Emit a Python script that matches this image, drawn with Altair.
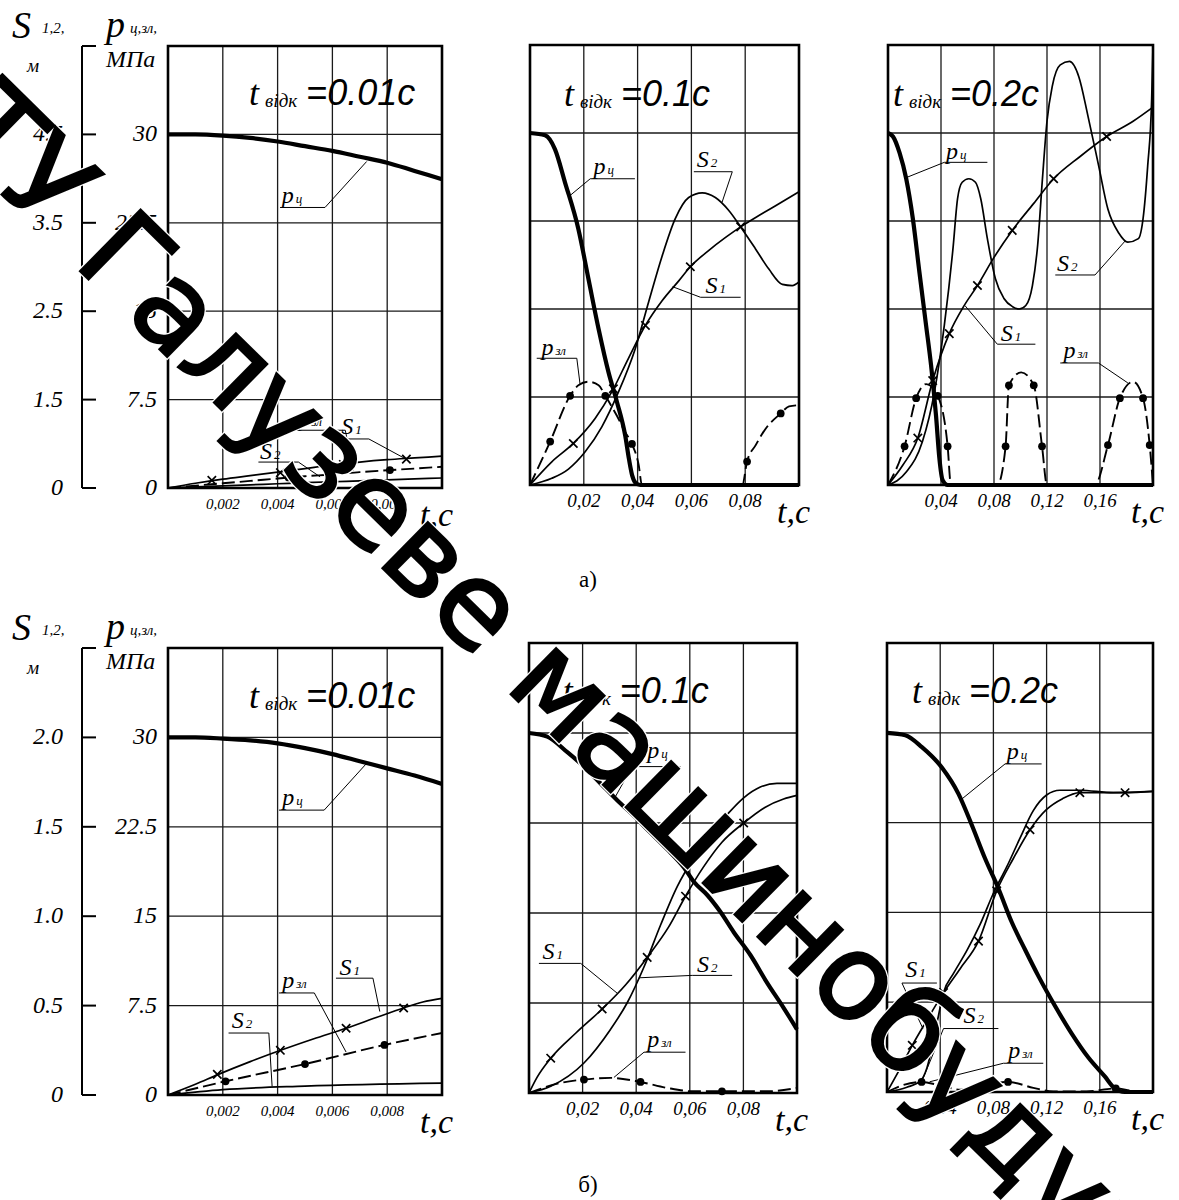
import altair as alt
import pandas as pd

SERIF = "Liberation Serif"
SANS = "Liberation Sans"
YMAX = 37.5
W, H = 1179, 1200
XSHAPE = "M-1,-1L1,1M-1,1L1,-1"

# ---------------- shared axis values ----------------
GRID_P = [7.5, 15, 22.5, 30]
P_TICKS = [0, 7.5, 15, 22.5, 30]
P_LABELS = ["0", "7.5", "15", "22.5", "30"]
S_LABELS_A = ["0", "1.5", "2.5", "3.5", "4.5"]
S_LABELS_B = ["0", "0.5", "1.0", "1.5", "2.0"]
TICKS_1 = [0.002, 0.004, 0.006, 0.008]
TLAB_1 = ["0,002", "0,004", "0,006", "0,008"]
TICKS_2 = [0.02, 0.04, 0.06, 0.08]
TLAB_2 = ["0,02", "0,04", "0,06", "0,08"]
TICKS_3 = [0.04, 0.08, 0.12, 0.16]
TLAB_3 = ["0,04", "0,08", "0,12", "0,16"]

# ---------------- a) t_відк = 0.01 c ----------------
a1_t = [0, 0.001, 0.002, 0.003, 0.004, 0.005, 0.006, 0.007, 0.008, 0.009, 0.01]
a1_pc = [30.0, 30.0, 29.9, 29.7, 29.4, 29.0, 28.6, 28.1, 27.6, 26.9, 26.2]
a1_s1 = [0, 0.4, 0.75, 1.05, 1.35, 1.65, 1.95, 2.2, 2.4, 2.55, 2.7]
a1_s2 = [0, 0.09, 0.18, 0.27, 0.36, 0.45, 0.53, 0.61, 0.69, 0.77, 0.85]
a1_pzl = [0, 0.2, 0.4, 0.6, 0.8, 1.0, 1.15, 1.35, 1.5, 1.65, 1.8]
a1_mk_t = [0.0016, 0.0041, 0.0064, 0.0087]
a1_mk_p = [0.65, 1.3, 2.0, 2.45]
a1_dot_t = [0.0044, 0.0081]
a1_dot_p = [0.9, 1.52]
a1_labels = [("p", "ц", 0.00415, 24.2), ("S", "1", 0.00632, 4.6),
             ("p", "зл", 0.00473, 5.3), ("S", "2", 0.00336, 2.5)]
a1_leaders = [[(0.00409, 23.8), (0.00573, 23.8), (0.00725, 27.7)],
              [(0.00611, 4.16), (0.00733, 4.16), (0.00865, 2.5)],
              [(0.0046, 4.9), (0.00647, 4.9), (0.00677, 1.5)],
              [(0.0033, 2.2), (0.00476, 2.2), (0.00555, 0.95)]]

# ---------------- a) t_відк = 0.1 c ----------------
a2_pc_t = [0, 0.0056, 0.0093, 0.013, 0.018, 0.0217, 0.0255, 0.0292, 0.0323, 0.0354,
           0.0368, 0.038, 0.0392, 0.041, 0.06, 0.08, 0.1]
a2_pc = [30, 29.8, 28.6, 25.8, 21.8, 17.6, 13.3, 9.6, 7.1, 4.2, 2.2, 0.8, 0.2, 0, 0, 0, 0]
a2_s1_t = [0, 0.0081, 0.0161, 0.0242, 0.0304, 0.0366, 0.0429, 0.0491, 0.0553, 0.0596,
           0.0665, 0.0727, 0.0783, 0.0839, 0.0913, 0.1]
a2_s1 = [0, 1.98, 3.54, 5.67, 7.93, 10.8, 13.6, 15.7, 17.4, 18.6, 20.0, 21.1, 22.0, 22.8, 23.8, 25.0]
a2_s2_t = [0, 0.0081, 0.0143, 0.0205, 0.0267, 0.0329, 0.0391, 0.0441, 0.0491, 0.054,
           0.059, 0.064, 0.0689, 0.0739, 0.0789, 0.0839, 0.0888, 0.0938, 0.0975, 0.1]
a2_s2 = [0, 0.57, 1.36, 2.83, 4.96, 7.93, 11.6, 15.6, 19.5, 22.7, 24.5, 24.9, 24.5, 23.4,
         21.8, 20.1, 18.4, 17.1, 17.0, 17.3]
a2_pzl_t = [0, 0.0075, 0.0149, 0.018, 0.0217, 0.0255, 0.028, 0.0323, 0.0354, 0.0379, 0.0404,
            0.0416, 0.05, 0.06, 0.07, 0.0789, 0.0807, 0.0839, 0.0876, 0.0932, 0.0963, 0.1]
a2_pzl = [0, 3.7, 7.6, 8.5, 8.8, 8.5, 7.6, 5.9, 4.5, 3.5, 1.7, 0, 0, 0, 0, 0, 2.0, 3.4, 4.8, 6.1, 6.7, 6.8]
a2_mk_t = [0.0161, 0.031, 0.0429, 0.0596, 0.0783]
a2_mk_p = [3.54, 8.2, 13.6, 18.6, 22.0]
a2_dot_t = [0.0075, 0.0149, 0.028, 0.0379, 0.0807, 0.0932]
a2_dot_p = [3.7, 7.6, 7.6, 3.5, 2.0, 6.1]
a2_labels = [("p", "ц", 0.0236, 26.5), ("S", "2", 0.062, 27.1),
             ("S", "1", 0.0652, 16.4), ("p", "зл", 0.0043, 11.1)]
a2_leaders = [[(0.039, 26.1), (0.0224, 26.1), (0.0145, 24.6)],
              [(0.0609, 26.7), (0.0752, 26.7), (0.0714, 24.1)],
              [(0.0783, 16.0), (0.0634, 16.0), (0.053, 16.9)],
              [(0.0025, 10.8), (0.0174, 10.8), (0.0186, 8.6)]]

# ---------------- a) t_відк = 0.2 c ----------------
a3_pc_t = [0, 0.00375, 0.00875, 0.01375, 0.01875, 0.02375, 0.02875, 0.0325, 0.03625,
           0.03875, 0.04125, 0.045, 0.1, 0.2]
a3_pc = [30, 29.7, 28.3, 26.1, 22.7, 18.1, 13.6, 10.2, 5.9, 2.3, 0.4, 0, 0, 0]
a3_s1_t = [0, 0.01125, 0.0225, 0.03375, 0.04625, 0.057, 0.0675, 0.08, 0.09375, 0.11,
           0.125, 0.145, 0.165, 0.185, 0.2]
a3_s1 = [0, 1.7, 4.0, 8.9, 12.9, 15.2, 17.0, 19.4, 21.7, 24.0, 26.1, 28.0, 29.7, 31.0, 32.2]
a3_s2_t = [0, 0.01375, 0.026, 0.035, 0.0425, 0.049, 0.0525, 0.056, 0.061, 0.066, 0.07, 0.075,
           0.081, 0.0875, 0.094, 0.099, 0.104, 0.109, 0.113, 0.1165, 0.12, 0.124, 0.13, 0.137,
           0.144, 0.151, 0.159, 0.166, 0.174, 0.181, 0.189, 0.1925, 0.196, 0.199, 0.2]
a3_s2 = [0, 1.1, 3.7, 7.9, 13.6, 20.1, 24.4, 25.8, 26.1, 25.8, 24.4, 21.0, 17.6, 15.9, 15.2,
         15.0, 15.3, 17.0, 20.5, 26.0, 31.0, 34.0, 35.8, 36.1, 34.8, 31.4, 27.2, 23.5, 21.5,
         20.7, 21.0, 22.7, 27.2, 32.9, 37.4]
a3_pzl_t = [0, 0.0125, 0.02125, 0.0288, 0.0375, 0.045, 0.0475, 0.06, 0.07, 0.0825, 0.08875,
            0.09125, 0.1005, 0.11, 0.11625, 0.12, 0.13, 0.145, 0.156, 0.166, 0.175, 0.185,
            0.1925, 0.1975, 0.2]
a3_pzl = [0, 3.3, 7.4, 8.6, 7.6, 3.3, 0, 0, 0, 0, 3.3, 8.5, 9.6, 8.5, 3.3, 0, 0, 0, 0, 3.4,
          7.4, 8.8, 7.4, 3.4, 0]
a3_mk_t = [0.0225, 0.03375, 0.04625, 0.0675, 0.09375, 0.125, 0.165]
a3_mk_p = [4.0, 8.9, 12.9, 17.0, 21.7, 26.1, 29.7]
a3_dot_t = [0.0125, 0.02125, 0.0375, 0.045, 0.08875, 0.09125, 0.11, 0.11625, 0.166, 0.175, 0.1925, 0.1975]
a3_dot_p = [3.3, 7.4, 7.6, 3.3, 3.3, 8.5, 8.5, 3.3, 3.4, 7.4, 7.4, 3.4]
a3_labels = [("p", "ц", 0.04375, 27.8), ("S", "2", 0.1275, 18.2),
             ("S", "1", 0.085, 12.3), ("p", "зл", 0.1325, 10.8)]
a3_leaders = [[(0.075, 27.5), (0.0425, 27.5), (0.0138, 26.2)],
              [(0.12625, 17.9), (0.15625, 17.9), (0.179, 20.8)],
              [(0.11125, 12.0), (0.0825, 12.0), (0.058, 15.3)],
              [(0.13, 10.4), (0.1588, 10.4), (0.181, 8.7)]]

# ---------------- б) t_відк = 0.01 c ----------------
b1_t = [0, 0.001, 0.002, 0.003, 0.004, 0.005, 0.006, 0.007, 0.008, 0.009, 0.01]
b1_pc = [30, 30, 29.9, 29.75, 29.5, 29.1, 28.6, 28.0, 27.4, 26.8, 26.1]
b1_s1_t = [0, 0.001, 0.00184, 0.003, 0.00411, 0.0053, 0.0065, 0.0076, 0.0086, 0.0093, 0.01]
b1_s1 = [0, 0.9, 1.73, 2.8, 3.75, 4.7, 5.6, 6.5, 7.3, 7.8, 8.1]
b1_s2_t = [0, 0.002, 0.005, 0.01]
b1_s2 = [0, 0.45, 0.75, 1.0]
b1_pzl_t = [0, 0.0021, 0.005, 0.0079, 0.01]
b1_pzl = [0, 1.15, 2.6, 4.2, 5.2]
b1_mk_t = [0.0018, 0.0041, 0.0065, 0.0086]
b1_mk_p = [1.73, 3.75, 5.6, 7.3]
b1_dot_t = [0.0021, 0.005, 0.0079]
b1_dot_p = [1.15, 2.6, 4.2]
b1_labels = [("p", "ц", 0.00417, 24.35), ("S", "1", 0.00626, 10.1),
             ("p", "зл", 0.00417, 8.95), ("S", "2", 0.00233, 5.6)]
b1_leaders = [[(0.00405, 23.9), (0.0057, 23.9), (0.00724, 27.8)],
              [(0.00613, 9.8), (0.00748, 9.8), (0.00773, 7.0)],
              [(0.00405, 8.56), (0.00534, 8.56), (0.0065, 3.6)],
              [(0.00221, 5.2), (0.00368, 5.2), (0.0038, 0.72)]]

# ---------------- б) t_відк = 0.1 c ----------------
b2_pc_t = [0, 0.0068, 0.0143, 0.0205, 0.0267, 0.0329, 0.0391, 0.0453, 0.0516, 0.0578,
           0.0615, 0.0665, 0.0714, 0.0764, 0.0826, 0.0888, 0.095, 0.1]
b2_pc = [30.0, 29.7, 28.4, 27.2, 25.8, 24.4, 23.1, 21.7, 20.3, 18.8, 17.6, 16.5, 15.1, 13.4,
         11.5, 9.2, 7.1, 5.3]
b2_s1_t = [0, 0.003, 0.0081, 0.0175, 0.0273, 0.036, 0.0441, 0.052, 0.0584, 0.065, 0.072,
           0.0801, 0.088, 0.095, 0.1]
b2_s1 = [0, 1.3, 2.9, 5.0, 7.0, 9.0, 11.3, 13.8, 16.4, 18.8, 20.9, 22.5, 23.8, 24.5, 24.8]
b2_s2_t = [0, 0.0081, 0.0205, 0.0304, 0.0366, 0.0429, 0.0491, 0.0553, 0.0615, 0.0677,
           0.0739, 0.0801, 0.0863, 0.0925, 0.1]
b2_s2 = [0, 0.56, 2.5, 5.3, 7.5, 10.5, 14.0, 17.2, 19.6, 21.6, 23.2, 24.6, 25.5, 25.8, 25.8]
b2_pzl_t = [0, 0.0118, 0.0205, 0.0304, 0.0416, 0.0516, 0.0615, 0.072, 0.0888, 0.1]
b2_pzl = [0, 0.84, 1.12, 1.26, 0.92, 0.42, 0.14, 0.14, 0.14, 0.42]
b2_mk_t = [0.0081, 0.0273, 0.0441, 0.0584, 0.0801]
b2_mk_p = [2.9, 7.0, 11.3, 16.4, 22.5]
b2_dot_t = [0.0205, 0.0416, 0.072]
b2_dot_p = [1.12, 0.92, 0.14]
b2_labels = [("p", "ц", 0.0441, 27.9), ("S", "1", 0.005, 11.2),
             ("S", "2", 0.0627, 10.1), ("p", "зл", 0.0441, 3.8)]
b2_leaders = [[(0.0565, 27.2), (0.0385, 27.2), (0.032, 24.6)],
              [(0.0037, 10.8), (0.0193, 10.8), (0.033, 8.3)],
              [(0.0758, 9.8), (0.0609, 9.8), (0.041, 9.6)],
              [(0.0584, 3.4), (0.0429, 3.4), (0.0317, 1.3)]]

# ---------------- б) t_відк = 0.2 c ----------------
b3_pc_t = [0, 0.01375, 0.02625, 0.04125, 0.05375, 0.06375, 0.07375, 0.08375, 0.09375,
           0.10375, 0.11375, 0.12625, 0.13875, 0.15125, 0.16375, 0.17125, 0.17875, 0.2]
b3_pc = [30.0, 29.8, 28.8, 27.1, 24.9, 22.3, 19.5, 17.0, 14.2, 11.9, 9.7, 7.2, 4.9, 2.9,
         1.3, 0.3, 0, 0]
b3_s1_t = [0, 0.01, 0.019, 0.03, 0.0425, 0.055, 0.0688, 0.0825, 0.095, 0.1075, 0.12, 0.132,
           0.145, 0.16, 0.179, 0.2]
b3_s1 = [0, 2.0, 3.9, 6.0, 8.3, 10.3, 12.6, 16.8, 19.5, 21.9, 23.6, 24.5, 25.0, 25.0, 25.0, 25.1]
b3_s2_t = [0, 0.015, 0.025, 0.03, 0.034, 0.038, 0.0425, 0.05, 0.06, 0.07, 0.08, 0.09, 0.1,
           0.11, 0.12, 0.13, 0.145, 0.17, 0.2]
b3_s2 = [0, 0.4, 0.9, 2.0, 3.8, 6.0, 8.3, 9.9, 11.8, 14.0, 16.6, 18.8, 21.2, 23.5, 24.8,
         25.2, 25.2, 25.0, 25.1]
b3_pzl_t = [0, 0.01, 0.026, 0.04, 0.055, 0.07, 0.091, 0.11, 0.125, 0.15, 0.172, 0.185, 0.2]
b3_pzl = [0, 0.5, 0.84, 0.55, 0.2, 0.45, 0.84, 0.35, 0.05, 0.05, 0.3, 0.1, 0.05]
b3_mk_t = [0.019, 0.0425, 0.0688, 0.0825, 0.1075, 0.145, 0.179]
b3_mk_p = [3.9, 8.3, 12.6, 16.8, 21.9, 25.0, 25.0]
b3_dot_t = [0.026, 0.091, 0.172]
b3_dot_p = [0.84, 0.84, 0.3]
b3_labels = [("p", "ц", 0.09, 27.8), ("S", "1", 0.01375, 9.6),
             ("S", "2", 0.0575, 5.8), ("p", "зл", 0.09125, 2.8)]
b3_leaders = [[(0.11625, 27.4), (0.08875, 27.4), (0.0555, 24.4)],
              [(0.0375, 9.1), (0.01125, 9.1), (0.027, 5.3)],
              [(0.08375, 5.3), (0.0425, 5.3), (0.027, 1.1)],
              [(0.1175, 2.4), (0.0875, 2.4), (0.032, 0.85)]]

# titles: (t, p, text)
TITLES = {
    "a1": (0.00296, 33.4, "=0.01c"), "a2": (0.0126, 33.2, "=0.1c"), "a3": (0.0038, 33.2, "=0.2c"),
    "b1": (0.00296, 33.4, "=0.01c"), "b2": (0.0126, 33.4, "=0.1c"), "b3": (0.0188, 33.4, "=0.2c"),
}

# watermark of the source scan
WM_PREFIX = "ПолтНТУ"
WM_MAIN = "Галузеве машинобудування"

# ---------------- panel geometry (pixel range of each plot area) ----------------
PANELS = {
    "a1": dict(tmax=0.01, xr=[168, 442], yr=[488, 46]),
    "a2": dict(tmax=0.1, xr=[530, 799], yr=[485, 45]),
    "a3": dict(tmax=0.2, xr=[888, 1153], yr=[485, 45]),
    "b1": dict(tmax=0.01, xr=[168, 442], yr=[1095, 648]),
    "b2": dict(tmax=0.1, xr=[529, 797], yr=[1093, 643]),
    "b3": dict(tmax=0.2, xr=[887, 1153], yr=[1092, 643]),
}


def scales(key):
    g = PANELS[key]
    xs = alt.Scale(domain=[0, g["tmax"]], range=g["xr"], nice=False, zero=False)
    ys = alt.Scale(domain=[0, YMAX], range=g["yr"], nice=False, zero=False)
    return xs, ys


def X(key, f="t"):
    return alt.X(f"{f}:Q", scale=scales(key)[0], axis=None)


def Y(key, f="p"):
    return alt.Y(f"{f}:Q", scale=scales(key)[1], axis=None)


def text_at(x, y, s, **kw):
    return alt.Chart(pd.DataFrame({"s": [s]})).mark_text(**kw).encode(
        x=alt.value(x), y=alt.value(y), text="s:N")


def curve(key, t, p, **mk):
    df = pd.DataFrame({"t": t, "p": p})
    return alt.Chart(df).mark_line(color="black", interpolate="monotone", **mk).encode(
        x=X(key), y=Y(key))


def panel(key, ticks, ticklabs, tick_fs, pc, s1, s2, pzl, mk, dots, labels, leaders):
    g = PANELS[key]
    tmax = g["tmax"]
    out = []
    vg = pd.DataFrame({"t": ticks, "lo": 0.0, "hi": YMAX})
    out.append(alt.Chart(vg).mark_rule(color="#1a1a1a", strokeWidth=1.3).encode(
        x=X(key), y=Y(key, "lo"), y2=alt.Y2("hi")))
    hg = pd.DataFrame({"p": GRID_P, "lo": 0.0, "hi": tmax})
    out.append(alt.Chart(hg).mark_rule(color="#1a1a1a", strokeWidth=1.3).encode(
        y=Y(key), x=X(key, "lo"), x2=alt.X2("hi")))
    fr = pd.DataFrame({"t0": [0.0], "t1": [tmax], "p0": [0.0], "p1": [YMAX]})
    out.append(alt.Chart(fr).mark_rect(fill="transparent", stroke="black", strokeWidth=2.6).encode(
        x=X(key, "t0"), x2=alt.X2("t1"), y=Y(key, "p0"), y2=alt.Y2("p1")))
    # curves
    out.append(curve(key, s2[0], s2[1], strokeWidth=1.7))
    out.append(curve(key, s1[0], s1[1], strokeWidth=1.7))
    out.append(curve(key, pzl[0], pzl[1], strokeWidth=1.9, strokeDash=[13, 5]))
    out.append(curve(key, pc[0], pc[1], strokeWidth=4.2))
    mdf = pd.DataFrame({"t": mk[0], "p": mk[1]})
    out.append(alt.Chart(mdf).mark_point(shape=XSHAPE, size=70, strokeWidth=1.7, color="black",
                                         filled=False, opacity=1).encode(x=X(key), y=Y(key)))
    ddf = pd.DataFrame({"t": dots[0], "p": dots[1]})
    out.append(alt.Chart(ddf).mark_circle(size=60, color="black", opacity=1).encode(
        x=X(key), y=Y(key)))
    # leaders
    rows = []
    for gi, pts in enumerate(leaders):
        for j, (t, p) in enumerate(pts):
            rows.append({"g": gi, "i": j, "t": t, "p": p})
    out.append(alt.Chart(pd.DataFrame(rows)).mark_line(color="black", strokeWidth=1.0).encode(
        x=X(key), y=Y(key), detail="g:N", order="i:Q"))
    ldf = pd.DataFrame([{"main": m, "sub": s, "t": t, "p": p} for (m, s, t, p) in labels])
    out.append(alt.Chart(ldf).mark_text(align="left", baseline="alphabetic", font=SERIF,
                                        fontStyle="italic", fontSize=24, color="black").encode(
        x=X(key), y=Y(key), text="main:N"))
    out.append(alt.Chart(ldf).mark_text(align="left", baseline="alphabetic", font=SERIF,
                                        fontStyle="italic", fontSize=13, dx=14, color="black").encode(
        x=X(key), y=Y(key), text="sub:N"))
    # title
    tt, tp, ts = TITLES[key]
    tdf = pd.DataFrame({"t": [tt], "p": [tp], "a": ["t"], "b": ["відк"], "c": [ts]})
    out.append(alt.Chart(tdf).mark_text(align="left", baseline="middle", font=SERIF,
                                        fontStyle="italic", fontSize=36, color="black").encode(
        x=X(key), y=Y(key), text="a:N"))
    out.append(alt.Chart(tdf).mark_text(align="left", baseline="middle", font=SERIF,
                                        fontStyle="italic", fontSize=19, dx=16, dy=7,
                                        color="black").encode(x=X(key), y=Y(key), text="b:N"))
    out.append(alt.Chart(tdf).mark_text(align="left", baseline="middle", font=SANS,
                                        fontStyle="italic", fontSize=36, dx=57,
                                        color="black").encode(x=X(key), y=Y(key), text="c:N"))
    # x tick labels
    kdf = pd.DataFrame({"t": ticks, "lab": ticklabs})
    out.append(alt.Chart(kdf).mark_text(align="center", baseline="middle", font=SERIF,
                                        fontStyle="italic", fontSize=tick_fs, color="black").encode(
        x=X(key), y=alt.value(g["yr"][0] + 16), text="lab:N"))
    out.append(text_at(g["xr"][1] - 22, g["yr"][0] + 38, "t,c", align="left", baseline="alphabetic",
                       font=SERIF, fontStyle="italic", fontSize=34, color="black"))
    return out


def left_axes(key, s_labels, top_px):
    out = []
    vdf = pd.DataFrame({"lo": [0.0], "hi": [YMAX]})
    out.append(alt.Chart(vdf).mark_rule(color="black", strokeWidth=2).encode(
        x=alt.value(82), y=Y(key, "lo"), y2=alt.Y2("hi")))
    tdf = pd.DataFrame({"p": P_TICKS + [YMAX]})
    out.append(alt.Chart(tdf).mark_rule(color="black", strokeWidth=2).encode(
        y=Y(key), x=alt.value(82), x2=alt.value(96)))
    sdf = pd.DataFrame({"p": P_TICKS, "lab": s_labels})
    out.append(alt.Chart(sdf).mark_text(align="right", baseline="middle", font=SERIF,
                                        fontStyle="italic", fontSize=24, color="black").encode(
        y=Y(key), x=alt.value(63), text="lab:N"))
    pdf = pd.DataFrame({"p": P_TICKS, "lab": P_LABELS})
    out.append(alt.Chart(pdf).mark_text(align="right", baseline="middle", font=SERIF,
                                        fontStyle="italic", fontSize=24, color="black").encode(
        y=Y(key), x=alt.value(157), text="lab:N"))
    it = dict(font=SERIF, fontStyle="italic", color="black", align="left")
    out.append(text_at(12, top_px - 8, "S", baseline="alphabetic", fontSize=38, **it))
    out.append(text_at(42, top_px - 13, "1,2,", baseline="alphabetic", fontSize=15, **it))
    out.append(text_at(27, top_px + 20, "м", baseline="middle", fontSize=19, **it))
    out.append(text_at(106, top_px - 9, "p", baseline="alphabetic", fontSize=38, **it))
    out.append(text_at(130, top_px - 13, "ц,зл,", baseline="alphabetic", fontSize=15, **it))
    out.append(text_at(106, top_px + 14, "МПа", baseline="middle", fontSize=24, **it))
    return out


layers = []
layers += panel("a1", TICKS_1, TLAB_1, 15, (a1_t, a1_pc), (a1_t, a1_s1), (a1_t, a1_s2),
                (a1_t, a1_pzl), (a1_mk_t, a1_mk_p), (a1_dot_t, a1_dot_p), a1_labels, a1_leaders)
layers += panel("a2", TICKS_2, TLAB_2, 19, (a2_pc_t, a2_pc), (a2_s1_t, a2_s1), (a2_s2_t, a2_s2),
                (a2_pzl_t, a2_pzl), (a2_mk_t, a2_mk_p), (a2_dot_t, a2_dot_p), a2_labels, a2_leaders)
layers += panel("a3", TICKS_3, TLAB_3, 19, (a3_pc_t, a3_pc), (a3_s1_t, a3_s1), (a3_s2_t, a3_s2),
                (a3_pzl_t, a3_pzl), (a3_mk_t, a3_mk_p), (a3_dot_t, a3_dot_p), a3_labels, a3_leaders)
layers += panel("b1", TICKS_1, TLAB_1, 15, (b1_t, b1_pc), (b1_s1_t, b1_s1), (b1_s2_t, b1_s2),
                (b1_pzl_t, b1_pzl), (b1_mk_t, b1_mk_p), (b1_dot_t, b1_dot_p), b1_labels, b1_leaders)
layers += panel("b2", TICKS_2, TLAB_2, 19, (b2_pc_t, b2_pc), (b2_s1_t, b2_s1), (b2_s2_t, b2_s2),
                (b2_pzl_t, b2_pzl), (b2_mk_t, b2_mk_p), (b2_dot_t, b2_dot_p), b2_labels, b2_leaders)
layers += panel("b3", TICKS_3, TLAB_3, 19, (b3_pc_t, b3_pc), (b3_s1_t, b3_s1), (b3_s2_t, b3_s2),
                (b3_pzl_t, b3_pzl), (b3_mk_t, b3_mk_p), (b3_dot_t, b3_dot_p), b3_labels, b3_leaders)
layers += left_axes("a1", S_LABELS_A, 46)
layers += left_axes("b1", S_LABELS_B, 648)
layers.append(text_at(588, 580, "а)", align="center", baseline="middle", font=SERIF,
                      fontSize=23, color="black"))
layers.append(text_at(588, 1185, "б)", align="center", baseline="middle", font=SERIF,
                      fontSize=23, color="black"))
# diagonal watermark across the scan (drawn on top): thin white halo, then a slightly thickened black glyph
wm = dict(baseline="alphabetic", angle=44.5, font="DejaVu Sans", fontSize=118, color="black")
layers.append(text_at(72, 263, WM_MAIN, align="left", stroke="white", strokeWidth=5, **wm))
layers.append(text_at(45, 237, WM_PREFIX, align="right", stroke="white", strokeWidth=5, **wm))
layers.append(text_at(72, 263, WM_MAIN, align="left", stroke="black", strokeWidth=2.5, **wm))
layers.append(text_at(45, 237, WM_PREFIX, align="right", stroke="black", strokeWidth=2.5, **wm))

chart = alt.layer(*layers).resolve_scale(x="independent", y="independent").properties(
    width=W, height=H, autosize=alt.AutoSizeParams(type="none"), padding=0,
    background="white").configure_view(strokeOpacity=0)

chart.save("out.html", embed_options={"renderer": "svg", "actions": False})
